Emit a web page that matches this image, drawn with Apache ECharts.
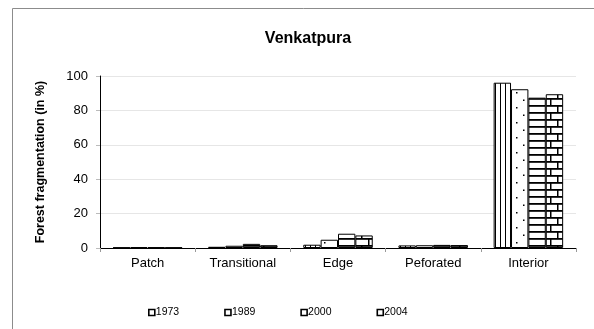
<!DOCTYPE html>
<html>
<head>
<meta charset="utf-8">
<script src="https://cdn.jsdelivr.net/npm/echarts@6/dist/echarts.min.js"></script>
<style>
  html, body { margin: 0; padding: 0; background: #fff; }
  #chart { width: 594px; height: 329px; }
</style>
</head>
<body>
<div id="chart"></div>
<script>
// Forest fragmentation classes and yearly shares (%)
const categories = ['Patch', 'Transitional', 'Edge', 'Peforated', 'Interior'];
const years = ['1973', '1989', '2000', '2004'];
const values1973 = [0.3, 0.7, 1.9, 1.5, 96.1];
const values1989 = [0.5, 1.3, 4.8, 1.6, 92.3];
const values2000 = [0.4, 2.4, 8.3, 1.8, 87.4];
const values2004 = [0.3, 1.6, 7.3, 1.7, 89.4];
const yTicks = [0, 20, 40, 60, 80, 100];

// Black-and-white hatch fills for each year
function makePattern(w, h, draw) {
  const c = document.createElement('canvas');
  c.width = w; c.height = h;
  const ctx = c.getContext('2d');
  ctx.fillStyle = '#fff';
  ctx.fillRect(0, 0, w, h);
  ctx.fillStyle = '#000';
  draw(ctx);
  return { image: c, repeat: 'repeat' };
}
const fill1973 = makePattern(5, 4, ctx => { ctx.fillRect(0, 0, 1, 4); });
const fill1989 = makePattern(16, 15, ctx => { ctx.fillRect(4, 2, 1.5, 1.5); ctx.fillRect(11, 9.5, 1.5, 1.5); });
const fill2000 = makePattern(40, 7, ctx => { ctx.fillRect(0, 0, 40, 1.8); });
const fill2004 = makePattern(14, 14, ctx => {
  ctx.fillRect(0, 0, 14, 1.8);
  ctx.fillRect(0, 7, 14, 1.8);
  ctx.fillRect(4, 0, 1.5, 7);
  ctx.fillRect(11, 7, 1.5, 7);
});
const fills = [fill1973, fill1989, fill2000, fill2004];
const seriesValues = [values1973, values1989, values2000, values2004];

const chart = echarts.init(document.getElementById('chart'), null, { renderer: 'canvas' });
const font = 'Liberation Sans, Arial, sans-serif';

chart.setOption({
  animation: false,
  backgroundColor: '#fff',
  graphic: [{
    type: 'rect',
    shape: { x: 12.5, y: 8.5, width: 620, height: 360 },
    style: { fill: 'none', stroke: '#8c8c8c', lineWidth: 1 },
    silent: true
  }],
  title: {
    text: 'Venkatpura',
    left: 303, top: 26, textAlign: 'center',
    textStyle: { fontFamily: font, fontSize: 16, fontWeight: 'bold', color: '#000' }
  },
  legend: {
    data: years.map(y => ({ name: y, itemStyle: { color: '#fff', borderColor: '#000', borderWidth: 1.6 } })),
    left: 143, top: 302,
    icon: 'rect', itemWidth: 6, itemHeight: 6, itemGap: 45,
    textStyle: { fontFamily: font, fontSize: 10.5, color: '#000', padding: [0, 0, 0, -4] }
  },
  grid: { left: 100, right: 18, top: 76, bottom: 81, containLabel: false },
  xAxis: {
    type: 'category',
    data: categories,
    axisLine: { lineStyle: { color: '#000', width: 1 } },
    axisTick: { show: true, length: 4, lineStyle: { color: '#999' } },
    axisLabel: { fontFamily: font, fontSize: 13, color: '#000', margin: 9 }
  },
  yAxis: {
    type: 'value',
    min: 0, max: 100, interval: 20,
    name: 'Forest fragmentation (in %)',
    nameLocation: 'middle', nameGap: 53, nameRotate: 90,
    nameTextStyle: { fontFamily: font, fontSize: 12.5, fontWeight: 'bold', color: '#000' },
    axisLine: { show: true, lineStyle: { color: '#000', width: 1 } },
    axisTick: { show: true, length: 4, lineStyle: { color: '#bbb' } },
    axisLabel: {
      fontFamily: font, fontSize: 13, color: '#000', margin: 12,
      formatter: v => (yTicks.includes(v) ? String(v) : '')
    },
    splitLine: { show: true, lineStyle: { color: '#e6e6e6', width: 1 } }
  },
  series: years.map((y, i) => ({
    name: y,
    type: 'bar',
    data: seriesValues[i],
    barGap: '0%',
    barCategoryGap: '27%',
    itemStyle: { color: fills[i], borderColor: '#000', borderWidth: 1 }
  }))
});
</script>
</body>
</html>
